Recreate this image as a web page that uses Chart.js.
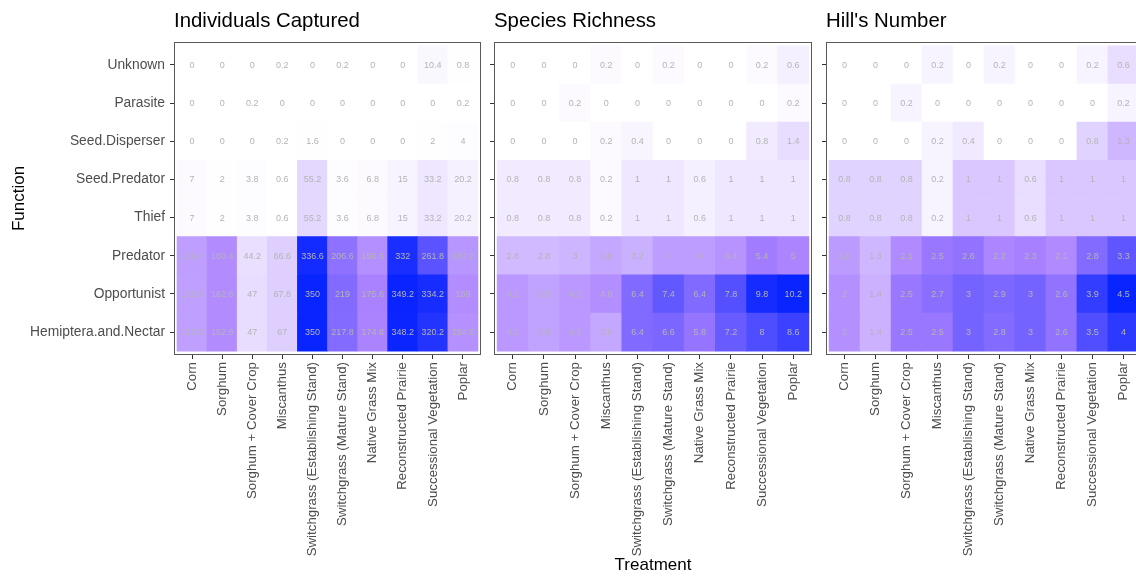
<!DOCTYPE html>
<html>
<head>
<meta charset="utf-8">
<script src="https://cdn.jsdelivr.net/npm/chart.js@4.4.0/dist/chart.umd.min.js"></script>
<style>
html, body { margin: 0; padding: 0; background: #fff; overflow: hidden; width: 1136px; height: 577px; }
canvas { position: absolute; top: 0; }
</style>
</head>
<body>
<canvas id="c1" width="483" height="577" style="left:0px"></canvas>
<canvas id="c2" width="332" height="577" style="left:483px"></canvas>
<canvas id="c3" width="330" height="577" style="left:815px"></canvas>
<script>
const treatments = ['Corn', 'Sorghum', 'Sorghum + Cover Crop', 'Miscanthus', 'Switchgrass (Establishing Stand)',
    'Switchgrass (Mature Stand)', 'Native Grass Mix', 'Reconstructed Prairie', 'Successional Vegetation', 'Poplar'];

// listed top to bottom, as in the picture
const functions = ['Unknown', 'Parasite', 'Seed.Disperser', 'Seed.Predator', 'Thief',
    'Predator', 'Opportunist', 'Hemiptera.and.Nectar'];

const individuals = [
    [0, 0, 0, 0.2, 0, 0.2, 0, 0, 10.4, 0.8],
    [0, 0, 0.2, 0, 0, 0, 0, 0, 0, 0.2],
    [0, 0, 0, 0.2, 1.6, 0, 0, 0, 2, 4],
    [7, 2, 3.8, 0.6, 55.2, 3.6, 6.8, 15, 33.2, 20.2],
    [7, 2, 3.8, 0.6, 55.2, 3.6, 6.8, 15, 33.2, 20.2],
    [135.4, 160.4, 44.2, 66.6, 336.6, 206.6, 156.6, 332, 261.8, 147.2],
    [133.8, 162.6, 47, 67.8, 350, 219, 175.6, 349.2, 334.2, 159],
    [133.8, 162.6, 47, 67, 350, 217.8, 174.8, 348.2, 320.2, 154.8]
];

const richness = [
    [0, 0, 0, 0.2, 0, 0.2, 0, 0, 0.2, 0.6],
    [0, 0, 0.2, 0, 0, 0, 0, 0, 0, 0.2],
    [0, 0, 0, 0.2, 0.4, 0, 0, 0, 0.8, 1.4],
    [0.8, 0.8, 0.8, 0.2, 1, 1, 0.6, 1, 1, 1],
    [0.8, 0.8, 0.8, 0.2, 1, 1, 0.6, 1, 1, 1],
    [2.8, 2.8, 3, 3.6, 3.2, 4, 4, 4.4, 5.4, 5],
    [4.2, 3.8, 4.2, 4.6, 6.4, 7.4, 6.4, 7.8, 9.8, 10.2],
    [4.2, 3.8, 4.2, 3.6, 6.4, 6.6, 5.8, 7.2, 8, 8.6]
];

const hills = [
    [0, 0, 0, 0.2, 0, 0.2, 0, 0, 0.2, 0.6],
    [0, 0, 0.2, 0, 0, 0, 0, 0, 0, 0.2],
    [0, 0, 0, 0.2, 0.4, 0, 0, 0, 0.8, 1.3],
    [0.8, 0.8, 0.8, 0.2, 1, 1, 0.6, 1, 1, 1],
    [0.8, 0.8, 0.8, 0.2, 1, 1, 0.6, 1, 1, 1],
    [1.8, 1.3, 2.1, 2.5, 2.6, 2.2, 2.3, 2.1, 2.8, 3.3],
    [2, 1.4, 2.5, 2.7, 3, 2.9, 3, 2.6, 3.9, 4.5],
    [2, 1.4, 2.5, 2.5, 3, 2.8, 3, 2.6, 3.5, 4]
];

const FONT = "'Liberation Sans', Arial, Helvetica, sans-serif";
const WHITE = [255, 255, 255], PURPLE = [171, 130, 255], BLUE = [8, 36, 255];

function mix(a, b, t) {
    return a.map((v, i) => Math.round(v + (b[i] - v) * t));
}

// white -> mediumpurple -> blue, midpoint at half the panel maximum
function fillFor(v, max) {
    const t = v / max;
    const c = t < 0.5 ? mix(WHITE, PURPLE, t / 0.5) : mix(PURPLE, BLUE, (t - 0.5) / 0.5);
    return `rgb(${c.join(',')})`;
}

const panelBorder = {
    id: 'panelBorder',
    afterDraw(chart) {
        const { ctx, chartArea: a } = chart;
        ctx.save();
        ctx.strokeStyle = '#5a5a5a';
        ctx.lineWidth = 1;
        ctx.strokeRect(Math.round(a.left) + 0.5, Math.round(a.top) + 0.5,
            Math.round(a.right - a.left) - 1, Math.round(a.bottom - a.top) - 1);
        ctx.restore();
    }
};

const cellLabels = {
    id: 'cellLabels',
    afterDatasetsDraw(chart) {
        const ctx = chart.ctx;
        ctx.save();
        ctx.font = '9px ' + FONT;
        ctx.fillStyle = '#b4b4b4';
        ctx.textAlign = 'center';
        ctx.textBaseline = 'middle';
        chart.data.datasets.forEach((ds, di) => {
            chart.getDatasetMeta(di).data.forEach((bar, i) => {
                const p = bar.getCenterPoint();
                ctx.fillText(String(ds.values[i]), p.x, p.y + 0.5);
            });
        });
        ctx.restore();
    }
};

function makePanel(id, title, rows, cfg) {
    const max = Math.max(...rows.flat());
    const datasets = [];
    // bottom row first so the stack grows upward
    for (let r = functions.length - 1; r >= 0; r--) {
        datasets.push({
            label: functions[r],
            values: rows[r],
            data: rows[r].map((v, i) => ({ x: i + 1, y: 1 })),
            backgroundColor: rows[r].map(v => fillFor(v, max)),
            borderWidth: 0,
            categoryPercentage: 1,
            barPercentage: 1
        });
    }
    const bottomUp = functions.slice().reverse();

    return new Chart(document.getElementById(id).getContext('2d'), {
        type: 'bar',
        data: { datasets: datasets },
        options: {
            responsive: false,
            animation: false,
            layout: { padding: { left: 0, right: cfg.padRight, top: 0, bottom: 0 } },
            plugins: {
                legend: { display: false },
                tooltip: { enabled: false },
                title: {
                    display: true,
                    text: title,
                    align: 'start',
                    fullSize: false,
                    color: '#000',
                    font: { family: FONT, size: 20.4, weight: 'normal' },
                    padding: { top: 9, bottom: 8.5 }
                }
            },
            scales: {
                x: {
                    type: 'linear',
                    stacked: true,
                    offset: false,
                    min: 0.4,
                    max: 10.6,
                    afterBuildTicks: s => { s.ticks = treatments.map((t, i) => ({ value: i + 1 })); },
                    afterFit: s => { s.height = 222; },
                    grid: { display: true, offset: false, drawOnChartArea: false, drawTicks: true, tickLength: 4, color: '#333' },
                    border: { display: false },
                    ticks: {
                        autoSkip: false,
                        minRotation: 90,
                        maxRotation: 90,
                        padding: 3,
                        color: '#4d4d4d',
                        font: { family: FONT, size: 13.3 },
                        callback: (v, i) => treatments[i]
                    },
                    title: {
                        display: !!cfg.xTitle,
                        text: cfg.xTitle || '',
                        color: '#000',
                        font: { family: FONT, size: 17 },
                        padding: { top: 0, bottom: 1 }
                    }
                },
                y: {
                    type: 'linear',
                    stacked: true,
                    offset: false,
                    min: -0.1,
                    max: 8.1,
                    afterBuildTicks: s => { s.ticks = bottomUp.map((f, i) => ({ value: i + 0.5 })); },
                    afterFit: s => { s.width = cfg.yWidth; },
                    grid: { display: true, offset: false, drawOnChartArea: false, drawTicks: true, tickLength: 4, color: '#333' },
                    border: { display: false },
                    ticks: {
                        padding: 5,
                        color: '#4d4d4d',
                        font: { family: FONT, size: 13.8 },
                        callback: (v, i) => cfg.yLabels ? bottomUp[i] : ''
                    },
                    title: {
                        display: !!cfg.yTitle,
                        text: cfg.yTitle || '',
                        color: '#000',
                        font: { family: FONT, size: 17 },
                        padding: { top: 9, bottom: 0 }
                    }
                }
            }
        },
        plugins: [cellLabels, panelBorder]
    });
}

makePanel('c1', 'Individuals Captured', individuals, { yWidth: 174, padRight: 2, yLabels: true, yTitle: 'Function' });
makePanel('c2', 'Species Richness', richness, { yWidth: 11, padRight: 3, yLabels: false, xTitle: 'Treatment' });
makePanel('c3', "Hill's Number", hills, { yWidth: 11, padRight: 3, yLabels: false });
</script>
</body>
</html>
